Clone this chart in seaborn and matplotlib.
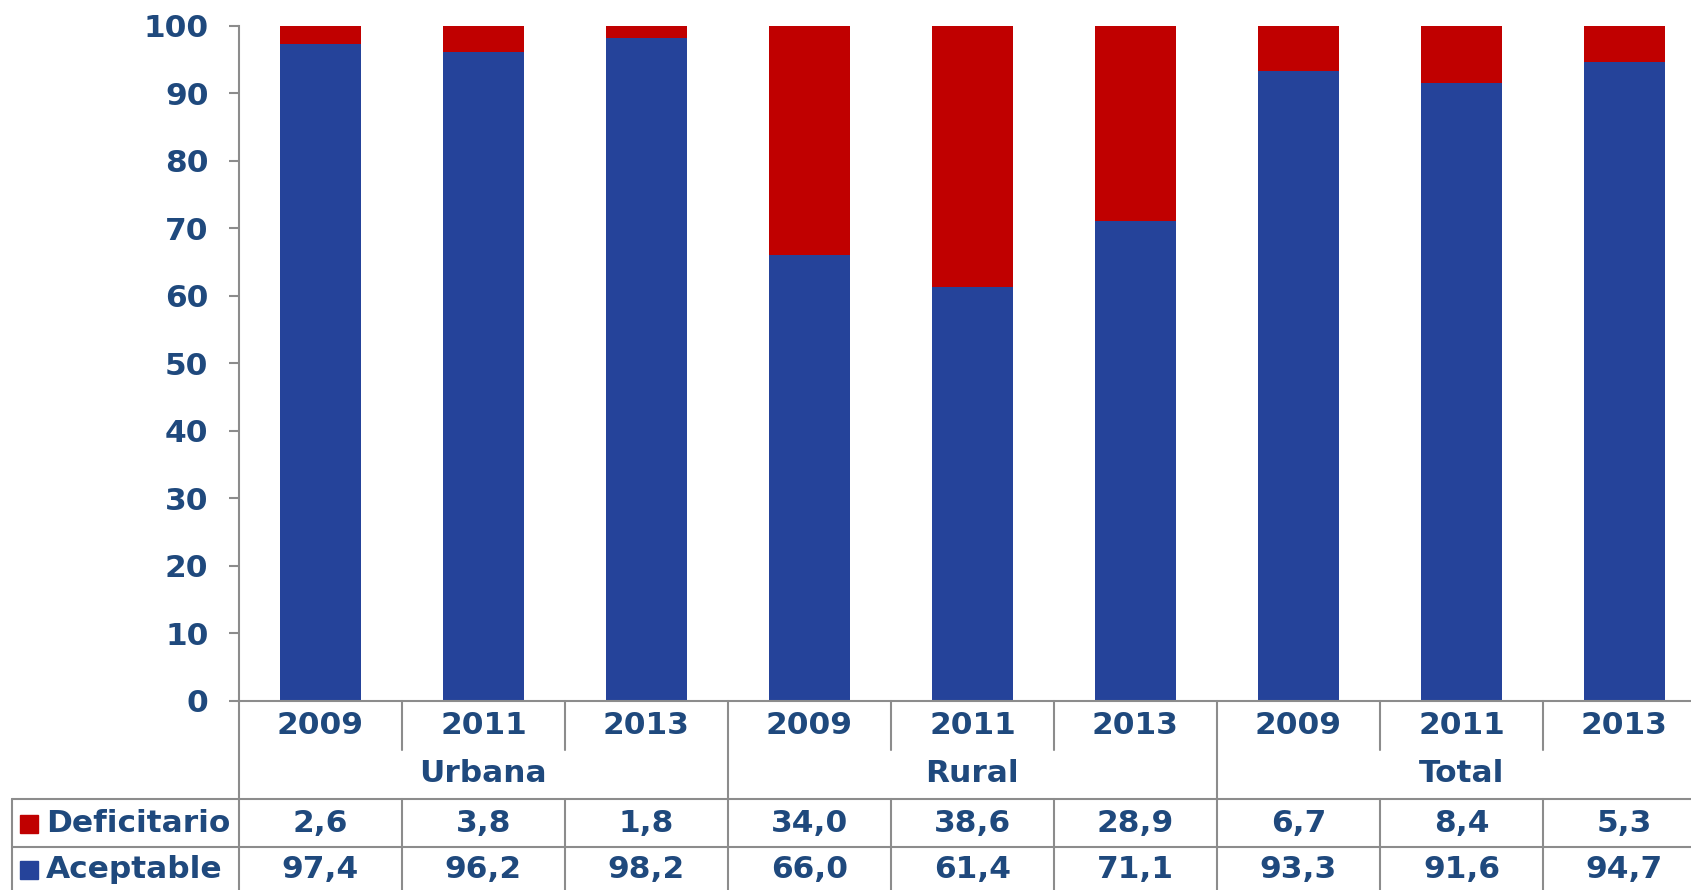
import numpy as np
import pandas as pd
import matplotlib
matplotlib.use("Agg")
import matplotlib.pyplot as plt
import matplotlib.transforms as mtransforms
import seaborn as sns

# data
zones = ["Urbana", "Rural", "Total"]
years = ["2009", "2011", "2013"]
deficitario = [2.6, 3.8, 1.8, 34.0, 38.6, 28.9, 6.7, 8.4, 5.3]
aceptable = [97.4, 96.2, 98.2, 66.0, 61.4, 71.1, 93.3, 91.6, 94.7]

BLUE = "#25439A"
RED = "#C00000"
TXT = "#1F497D"
GRID = "#8C8C8C"

sns.set_theme(style="white")
plt.rcParams["font.family"] = ["DejaVu Sans"]

labels = [f"{z} {y}" for z in zones for y in years]
df = pd.DataFrame({
    "col": labels,
    "aceptable": aceptable,
    "total": np.array(aceptable) + np.array(deficitario),
})

fig = plt.figure(figsize=(16.91, 8.90), dpi=100)
# the plot area runs a little past the right edge of the picture, as in the original
ax = fig.add_axes([0.1413, 0.2124, 0.8675, 0.7584])

# stacked look: full bar in red, then the acceptable part in blue over it
sns.barplot(data=df, x="col", y="total", order=labels, color=RED, saturation=1,
            width=0.5, edgecolor="none", ax=ax)
sns.barplot(data=df, x="col", y="aceptable", order=labels, color=BLUE, saturation=1,
            width=0.5, edgecolor="none", ax=ax)

ax.set_xlim(-0.5, len(labels) - 0.5)
ax.set_ylim(0, 100)
ax.set_yticks(range(0, 101, 10))
ax.set_xticks([])
ax.set_xlabel("")
ax.set_ylabel("")
for lab in ax.get_yticklabels():
    lab.set_fontweight("bold")
ax.tick_params(axis="y", labelsize=22.5, labelcolor=TXT, color=GRID, length=7,
               width=1.5, pad=15, left=True)
for s in ["top", "right"]:
    ax.spines[s].set_visible(False)
for s in ["left", "bottom"]:
    ax.spines[s].set_color(GRID)
    ax.spines[s].set_linewidth(1.5)

# table below the plot: x in data units, y in axes fraction
tr = mtransforms.blended_transform_factory(ax.transData, ax.transAxes)
y_year, y_sep, y_zone, y_h1, y_def, y_h2, y_ace, y_bot = (
    -0.036, -0.072, -0.108, -0.145, -0.182, -0.216, -0.250, -0.30)
x_left = -1.895
lkw = dict(color=GRID, lw=1.5, transform=tr, clip_on=False)

n = len(labels)
for i in range(n + 1):
    xb = i - 0.5
    if i % 3 == 0:
        ax.plot([xb, xb], [0, y_bot], **lkw)
    else:
        ax.plot([xb, xb], [0, y_sep], **lkw)
        ax.plot([xb, xb], [y_h1, y_bot], **lkw)
ax.plot([x_left, x_left], [y_h1, y_bot], **lkw)
ax.plot([x_left, n - 0.5], [y_h1, y_h1], **lkw)
ax.plot([x_left, n - 0.5], [y_h2, y_h2], **lkw)

tkw = dict(transform=tr, ha="center", va="center", fontsize=22.5,
           fontweight="bold", color=TXT, clip_on=False)
for i, lab in enumerate(labels):
    ax.text(i, y_year, years[i % 3], **tkw)
    ax.text(i, y_def, f"{deficitario[i]:.1f}".replace(".", ","), **tkw)
    ax.text(i, y_ace, f"{aceptable[i]:.1f}".replace(".", ","), **tkw)
for g, z in enumerate(zones):
    ax.text(g * 3 + 1, y_zone, z, **tkw)

# row headers with colour keys
for yy, name, c in [(y_def, "Deficitario", RED), (y_ace, "Aceptable", BLUE)]:
    ax.plot([-1.787], [yy], marker="s", markersize=13, color=c, transform=tr,
            clip_on=False, linestyle="none")
    ax.text(-1.685, yy, name, transform=tr, ha="left", va="center",
            fontsize=22.5, fontweight="bold", color=TXT, clip_on=False)

fig.savefig("out.png", dpi=100)
